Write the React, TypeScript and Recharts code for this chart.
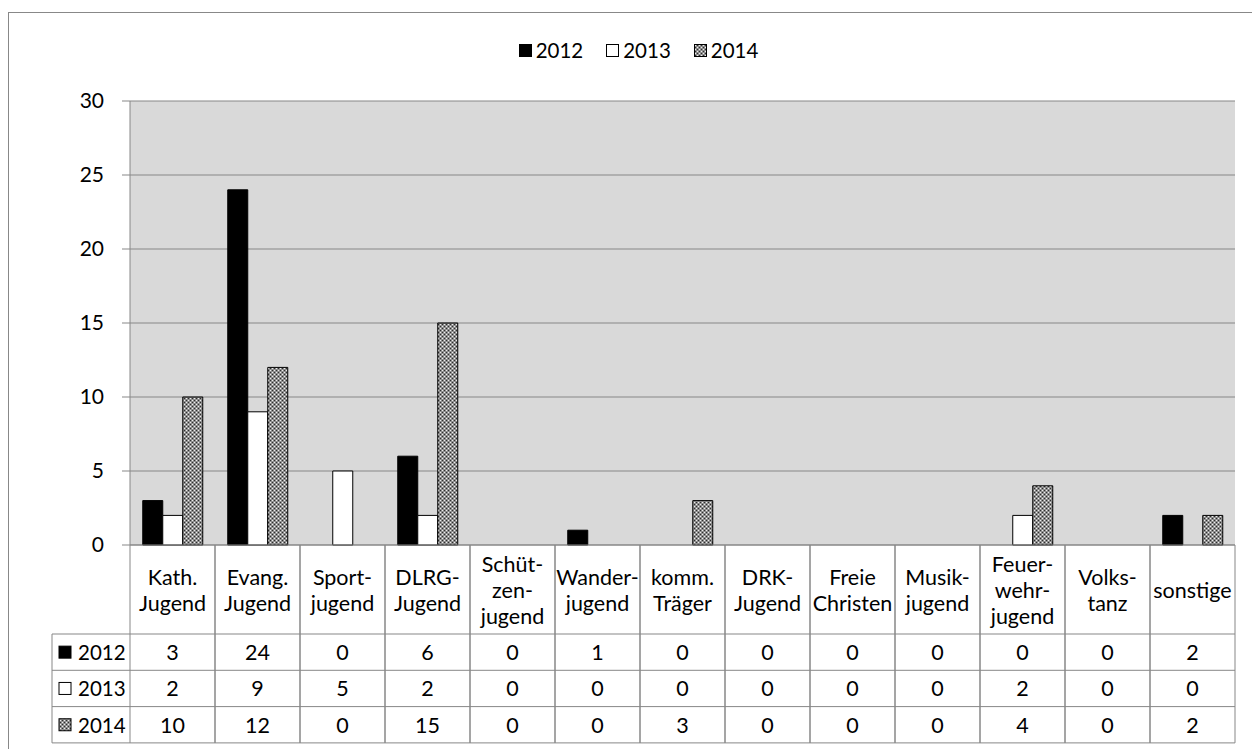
import React from "react";
import { BarChart, Bar, XAxis, YAxis, CartesianGrid, Legend } from "recharts";

const categories = [
  "Kath.\nJugend",
  "Evang.\nJugend",
  "Sport-\njugend",
  "DLRG-\nJugend",
  "Schüt-\nzen-\njugend",
  "Wander-\njugend",
  "komm.\nTräger",
  "DRK-\nJugend",
  "Freie\nChristen",
  "Musik-\njugend",
  "Feuer-\nwehr-\njugend",
  "Volks-\ntanz",
  "sonstige",
];
const values2012 = [3, 24, 0, 6, 0, 1, 0, 0, 0, 0, 0, 0, 2];
const values2013 = [2, 9, 5, 2, 0, 0, 0, 0, 0, 0, 2, 0, 0];
const values2014 = [10, 12, 0, 15, 0, 0, 3, 0, 0, 0, 4, 0, 2];
const seriesNames = ["2012", "2013", "2014"];
const yTicks = [0, 5, 10, 15, 20, 25, 30];

const seriesValues = [values2012, values2013, values2014];
const data = categories.map((name, i) => ({
  name,
  s2012: values2012[i],
  s2013: values2013[i],
  s2014: values2014[i],
}));

// layout / style constants
const W = 1252;
const H = 749;
const PLOT_LEFT = 130;
const PLOT_RIGHT = 1235;
const CAT_W = (PLOT_RIGHT - PLOT_LEFT) / categories.length;
const HEADER_H = 89;
const ROW_H = 36.3;
const LEG_COL_LEFT = 52;
const LINE = "#878787";
const FONT = "Lato, 'Open Sans', sans-serif";
const TABLE_FS = 21.5;
const fills = ["#000000", "#ffffff", "url(#pat2014)"];

const Marker = ({ i, x, y, size }: { i: number; x: number; y: number; size: number }) => (
  <rect x={x} y={y} width={size} height={size} fill={fills[i]} stroke="#000" strokeWidth={1} />
);

const TableTick = (props: any) => {
  const { x, y, payload, index } = props;
  const left = x - CAT_W / 2;
  const right = x + CAT_W / 2;
  const bottom = y + HEADER_H + ROW_H * 3;
  const lines = String(payload.value).split("\n");
  const lh = 26;
  const cy = y + HEADER_H / 2;
  const startY = cy - ((lines.length - 1) * lh) / 2;
  return (
    <g>
      <line x1={left} y1={y} x2={left} y2={bottom} stroke={LINE} strokeWidth={1} />
      <line x1={right} y1={y} x2={right} y2={bottom} stroke={LINE} strokeWidth={1} />
      {[0, 1, 2, 3].map((r) => (
        <line
          key={r}
          x1={left}
          x2={right}
          y1={y + HEADER_H + ROW_H * r}
          y2={y + HEADER_H + ROW_H * r}
          stroke={LINE}
          strokeWidth={1}
        />
      ))}
      {lines.map((ln, k) => (
        <text
          key={k}
          x={x}
          y={startY + k * lh}
          textAnchor="middle"
          dominantBaseline="central"
          fontSize={TABLE_FS}
          fontFamily={FONT}
          fill="#000"
        >
          {ln}
        </text>
      ))}
      {seriesValues.map((vals, r) => (
        <text
          key={r}
          x={x}
          y={y + HEADER_H + ROW_H * r + ROW_H / 2}
          textAnchor="middle"
          dominantBaseline="central"
          fontSize={TABLE_FS}
          fontFamily={FONT}
          fill="#000"
        >
          {vals[index]}
        </text>
      ))}
      {index === 0 && (
        <g>
          <line x1={LEG_COL_LEFT} x2={LEG_COL_LEFT} y1={y + HEADER_H} y2={bottom} stroke={LINE} strokeWidth={1} />
          {[0, 1, 2, 3].map((r) => (
            <line
              key={r}
              x1={LEG_COL_LEFT}
              x2={left}
              y1={y + HEADER_H + ROW_H * r}
              y2={y + HEADER_H + ROW_H * r}
              stroke={LINE}
              strokeWidth={1}
            />
          ))}
          {seriesNames.map((s, r) => {
            const ry = y + HEADER_H + ROW_H * r + ROW_H / 2;
            return (
              <g key={s}>
                <Marker i={r} x={LEG_COL_LEFT + 7} y={ry - 6} size={12} />
                <text
                  x={LEG_COL_LEFT + 26}
                  y={ry}
                  dominantBaseline="central"
                  fontSize={20.5}
                  fontFamily={FONT}
                  fill="#000"
                >
                  {s}
                </text>
              </g>
            );
          })}
        </g>
      )}
    </g>
  );
};

const LegendContent = () => (
  <div
    style={{
      display: "flex",
      justifyContent: "center",
      alignItems: "center",
      fontFamily: FONT,
      fontSize: 20.5,
      paddingLeft: 24,
    }}
  >
    {seriesNames.map((s, i) => (
      <div key={s} style={{ display: "flex", alignItems: "center", marginRight: i < 2 ? 22 : 0 }}>
        <svg width={15} height={15} style={{ marginRight: 3 }}>
          <Marker i={i} x={1.5} y={1.5} size={12} />
        </svg>
        <span>{s}</span>
      </div>
    ))}
  </div>
);

export default function App() {
  return (
    <div
      style={{
        position: "fixed",
        left: 0,
        top: 0,
        width: W,
        height: H,
        overflow: "hidden",
        background: "#fff",
        fontFamily: FONT,
      }}
    >
      <div
        style={{
          position: "absolute",
          left: 8,
          top: 12,
          width: 1400,
          height: 900,
          border: "1px solid #888",
          boxSizing: "border-box",
        }}
      />
      <div style={{ position: "absolute", left: 0, top: 0 }}>
        <BarChart
          width={W}
          height={H}
          data={data}
          margin={{ top: 101, right: W - PLOT_RIGHT, left: PLOT_LEFT - 70, bottom: 4 }}
          barCategoryGap="15%"
          barGap={0}
        >
          <defs>
            <pattern id="pat2014" width={4} height={4} patternUnits="userSpaceOnUse">
              <rect width={4} height={4} fill="#8e8e8e" />
              <rect x={0} y={0} width={1} height={1} fill="#eeeeee" />
              <rect x={2} y={2} width={1} height={1} fill="#eeeeee" />
              <rect x={2} y={0} width={1} height={1} fill="#2e2e2e" />
              <rect x={0} y={2} width={1} height={1} fill="#2e2e2e" />
            </pattern>
          </defs>
          <CartesianGrid vertical={false} stroke={LINE} fill="#d9d9d9" strokeOpacity={1} />
          <XAxis
            dataKey="name"
            height={200}
            interval={0}
            axisLine={{ stroke: LINE }}
            tickLine={false}
            tickSize={0}
            tickMargin={0}
            tick={<TableTick />}
          />
          <YAxis
            width={70}
            domain={[0, 30]}
            ticks={yTicks}
            interval={0}
            axisLine={{ stroke: LINE }}
            tickLine={{ stroke: LINE }}
            tickSize={8}
            tickMargin={18}
            tick={{ fill: "#000", fontSize: 21, fontFamily: FONT }}
          />
          <Legend
            verticalAlign="middle"
            align="center"
            layout="horizontal"
            content={<LegendContent />}
            wrapperStyle={{ top: 38, left: 0, width: W }}
          />
          <Bar dataKey="s2012" name={seriesNames[0]} fill={fills[0]} stroke="#000" strokeWidth={1} isAnimationActive={false} />
          <Bar dataKey="s2013" name={seriesNames[1]} fill={fills[1]} stroke="#000" strokeWidth={1} isAnimationActive={false} />
          <Bar dataKey="s2014" name={seriesNames[2]} fill={fills[2]} stroke="#000" strokeWidth={1} isAnimationActive={false} />
        </BarChart>
      </div>
    </div>
  );
}
